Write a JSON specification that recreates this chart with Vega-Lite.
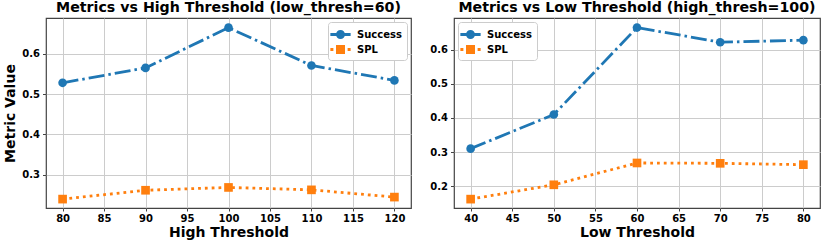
{
  "$schema": "https://vega.github.io/schema/vega-lite/v6.json",
  "padding": {"left": 3, "right": 3, "top": 0, "bottom": 0},
  "background": "white",
  "spacing": 17,
  "config": {
    "font": "DejaVu Sans",
    "view": {"stroke": "#444", "strokeWidth": 1.2},
    "title": {"fontSize": 14.2, "fontWeight": "bold", "color": "black", "offset": 3},
    "axis": {
      "labelFont": "DejaVu Sans", "labelFontWeight": "bold", "labelFontSize": 10, "labelColor": "black",
      "titleFont": "DejaVu Sans", "titleFontWeight": "bold", "titleFontSize": 14, "titleColor": "black",
      "gridColor": "#cccccc", "gridWidth": 1, "domain": false, "tickColor": "#444", "tickSize": 3.5, "labelPadding": 3
    },
    "axisX": {"labelPadding": 2.5, "titlePadding": 1.5, "tickSize": 3},
    "legend": {
      "labelFont": "DejaVu Sans", "labelFontWeight": "bold", "labelFontSize": 10, "labelColor": "black",
      "strokeColor": "#cccccc", "fillColor": "white", "padding": 5, "rowPadding": 2, "cornerRadius": 3,
      "symbolSize": 225, "symbolStrokeWidth": 0, "symbolOpacity": 1, "labelOffset": 9, "title": null, "offset": 4
    }
  },
  "datasets": {
    "high": [
      {"x": 80, "metric": "Success", "value": 0.528},
      {"x": 90, "metric": "Success", "value": 0.565},
      {"x": 100, "metric": "Success", "value": 0.665},
      {"x": 110, "metric": "Success", "value": 0.571},
      {"x": 120, "metric": "Success", "value": 0.534},
      {"x": 80, "metric": "SPL", "value": 0.239},
      {"x": 90, "metric": "SPL", "value": 0.261},
      {"x": 100, "metric": "SPL", "value": 0.268},
      {"x": 110, "metric": "SPL", "value": 0.262},
      {"x": 120, "metric": "SPL", "value": 0.244}
    ],
    "low": [
      {"x": 40, "metric": "Success", "value": 0.31},
      {"x": 50, "metric": "Success", "value": 0.41},
      {"x": 60, "metric": "Success", "value": 0.665},
      {"x": 70, "metric": "Success", "value": 0.622},
      {"x": 80, "metric": "Success", "value": 0.628},
      {"x": 40, "metric": "SPL", "value": 0.162},
      {"x": 50, "metric": "SPL", "value": 0.204},
      {"x": 60, "metric": "SPL", "value": 0.268},
      {"x": 70, "metric": "SPL", "value": 0.267},
      {"x": 80, "metric": "SPL", "value": 0.263}
    ]
  },
  "resolve": {"scale": {"color": "independent", "shape": "independent", "strokeDash": "independent"}, "legend": {"color": "independent", "shape": "independent", "strokeDash": "independent"}},
  "hconcat": [
    {
      "title": "Metrics vs High Threshold (low_thresh=60)",
      "width": 365, "height": 190,
      "data": {"name": "high"},
      "encoding": {
        "x": {"field": "x", "type": "quantitative", "title": "High Threshold",
              "scale": {"domain": [78, 122], "nice": false, "zero": false},
              "axis": {"values": [80, 85, 90, 95, 100, 105, 110, 115, 120]}},
        "y": {"field": "value", "type": "quantitative", "title": "Metric Value",
              "scale": {"domain": [0.2169, 0.689], "nice": false, "zero": false},
              "axis": {"values": [0.3, 0.4, 0.5, 0.6], "format": ".1f", "titlePadding": 4}},
        "color": {"field": "metric", "type": "nominal", "sort": ["Success", "SPL"],
                  "scale": {"domain": ["Success", "SPL"], "range": ["#1f77b4", "#ff7f0e"]},
                  "legend": {"orient": "top-right"}}
      },
      "layer": [
        {"mark": {"type": "line", "strokeWidth": 2.8},
         "encoding": {"strokeDash": {"field": "metric", "type": "nominal", "sort": ["Success", "SPL"],
                      "scale": {"domain": ["Success", "SPL"], "range": [[16, 4, 2.5, 4], [2.8, 4]]},
                      "legend": null}}},
        {"transform": [{"filter": "datum.metric === 'Success'"}],
         "mark": {"type": "point", "shape": "circle", "filled": true, "opacity": 1, "size": 75}},
        {"transform": [{"filter": "datum.metric === 'SPL'"}],
         "mark": {"type": "point", "shape": "square", "filled": true, "opacity": 1, "size": 75}},
        {"mark": {"type": "point", "filled": true, "opacity": 0},
         "encoding": {"shape": {"field": "metric", "type": "nominal", "sort": ["Success", "SPL"],
                      "scale": {"domain": ["Success", "SPL"], "range": ["M-1.35,-0.19H-0.5V0.19H-1.35Z M0.5,-0.19H1.35V0.19H0.5Z M0.6,0A0.6,0.6 0 1,1 -0.6,0A0.6,0.6 0 1,1 0.6,0Z", "M-1.35,-0.19H-0.95V0.19H-1.35Z M-0.6,-0.6H0.6V0.6H-0.6Z M0.95,-0.19H1.35V0.19H0.95Z"]},
                      "legend": {"orient": "top-right"}}}}
      ]
    },
    {
      "title": "Metrics vs Low Threshold (high_thresh=100)",
      "width": 366, "height": 190,
      "data": {"name": "low"},
      "encoding": {
        "x": {"field": "x", "type": "quantitative", "title": "Low Threshold",
              "scale": {"domain": [38, 82], "nice": false, "zero": false},
              "axis": {"values": [40, 45, 50, 55, 60, 65, 70, 75, 80]}},
        "y": {"field": "value", "type": "quantitative", "title": null,
              "scale": {"domain": [0.136, 0.693], "nice": false, "zero": false},
              "axis": {"values": [0.2, 0.3, 0.4, 0.5, 0.6], "format": ".1f"}},
        "color": {"field": "metric", "type": "nominal", "sort": ["Success", "SPL"],
                  "scale": {"domain": ["Success", "SPL"], "range": ["#1f77b4", "#ff7f0e"]},
                  "legend": {"orient": "top-left"}}
      },
      "layer": [
        {"mark": {"type": "line", "strokeWidth": 2.8},
         "encoding": {"strokeDash": {"field": "metric", "type": "nominal", "sort": ["Success", "SPL"],
                      "scale": {"domain": ["Success", "SPL"], "range": [[16, 4, 2.5, 4], [2.8, 4]]},
                      "legend": null}}},
        {"transform": [{"filter": "datum.metric === 'Success'"}],
         "mark": {"type": "point", "shape": "circle", "filled": true, "opacity": 1, "size": 75}},
        {"transform": [{"filter": "datum.metric === 'SPL'"}],
         "mark": {"type": "point", "shape": "square", "filled": true, "opacity": 1, "size": 75}},
        {"mark": {"type": "point", "filled": true, "opacity": 0},
         "encoding": {"shape": {"field": "metric", "type": "nominal", "sort": ["Success", "SPL"],
                      "scale": {"domain": ["Success", "SPL"], "range": ["M-1.35,-0.19H-0.5V0.19H-1.35Z M0.5,-0.19H1.35V0.19H0.5Z M0.6,0A0.6,0.6 0 1,1 -0.6,0A0.6,0.6 0 1,1 0.6,0Z", "M-1.35,-0.19H-0.95V0.19H-1.35Z M-0.6,-0.6H0.6V0.6H-0.6Z M0.95,-0.19H1.35V0.19H0.95Z"]},
                      "legend": {"orient": "top-left"}}}}
      ]
    }
  ]
}
